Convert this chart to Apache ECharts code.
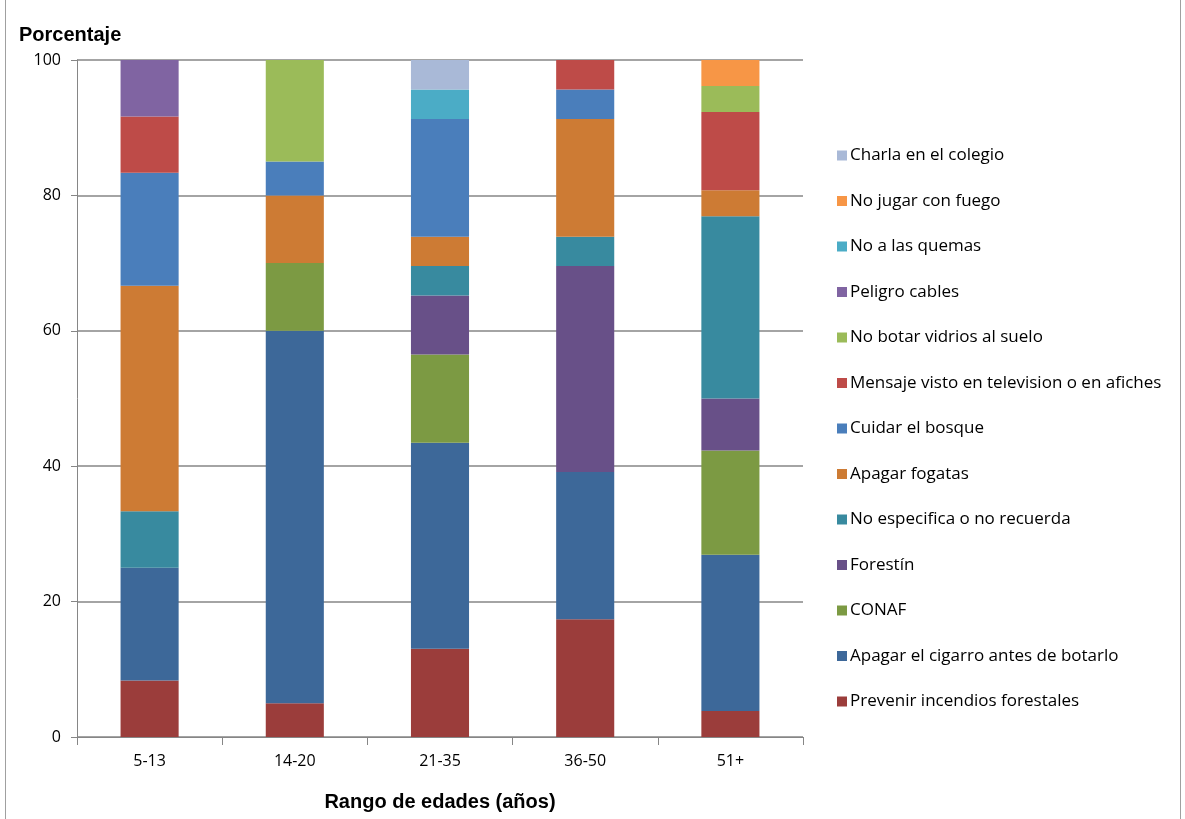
<!DOCTYPE html>
<html>
<head>
<meta charset="utf-8">
<script src="https://cdn.jsdelivr.net/npm/echarts@6/dist/echarts.min.js"></script>
<style>
html,body{margin:0;padding:0;background:#fff;}
#chart{height:819px;box-sizing:border-box;border-left:1px solid #a0a0a0;border-right:1px solid #a0a0a0;margin-left:5px;width:1176px;}
</style>
</head>
<body>
<div id="chart"></div>
<script>
const categories = ['5-13', '14-20', '21-35', '36-50', '51+'];
const seriesNames = [
  'Prevenir incendios forestales',
  'Apagar el cigarro antes de botarlo',
  'CONAF',
  'Forestín',
  'No especifica o no recuerda',
  'Apagar fogatas',
  'Cuidar el bosque',
  'Mensaje visto en television o en afiches',
  'No botar vidrios al suelo',
  'Peligro cables',
  'No a las quemas',
  'No jugar con fuego',
  'Charla en el colegio'
];
const colors = ['#9B3D3B','#3D6899','#7C9A43','#685088','#388A9F','#CD7B34','#4A7EBB','#BE4B48','#9BBB59','#8064A2','#4BACC6','#F79646','#A9B9D7'];
// valores por serie (porcentaje) para 5-13, 14-20, 21-35, 36-50, 51+
const prevenir = [8.33, 5, 13.04, 17.39, 3.85];
const cigarro = [16.67, 55, 30.43, 21.74, 23.08];
const conaf = [0, 10, 13.04, 0, 15.38];
const forestin = [0, 0, 8.70, 30.43, 7.69];
const noEspecifica = [8.33, 0, 4.35, 4.35, 26.92];
const fogatas = [33.33, 10, 4.35, 17.39, 3.85];
const bosque = [16.67, 5, 17.39, 4.35, 0];
const mensaje = [8.33, 0, 0, 4.35, 11.54];
const vidrios = [0, 15, 0, 0, 3.85];
const cables = [8.33, 0, 0, 0, 0];
const quemas = [0, 0, 4.35, 0, 0];
const jugar = [0, 0, 0, 0, 3.85];
const charla = [0, 0, 4.35, 0, 0];
const yTicks = [0, 20, 40, 60, 80, 100];

const values = [prevenir, cigarro, conaf, forestin, noEspecifica, fogatas, bosque, mensaje, vidrios, cables, quemas, jugar, charla];

const bold = '"Liberation Sans", Arial, sans-serif';
const body = '"Open Sans", "Liberation Sans", sans-serif';

const myChart = echarts.init(document.getElementById('chart'));
const option = {
  animation: false,
  grid: { left: 71, right: 377, top: 60, bottom: 82 },
  title: {
    text: 'Porcentaje', left: 8, top: 20,
    textStyle: { fontFamily: bold, fontWeight: 'bold', fontSize: 20, color: '#000' }
  },
  legend: {
    orient: 'vertical', left: 826, top: 142, itemGap: 28.5,
    itemWidth: 10, itemHeight: 10, icon: 'rect',
    data: seriesNames.slice().reverse(),
    textStyle: { fontFamily: body, fontSize: 17, color: '#000', padding: [0,0,0,-2] }
  },
  xAxis: {
    type: 'category', data: categories,
    name: 'Rango de edades (años)', nameLocation: 'middle', nameGap: 55,
    nameTextStyle: { fontFamily: bold, fontWeight: 'bold', fontSize: 20, color: '#000' },
    axisLine: { lineStyle: { color: '#868686' } },
    axisTick: { show: true, length: 8, lineStyle: { color: '#868686' } },
    axisLabel: { fontFamily: body, fontSize: 16, color: '#000', margin: 16 }
  },
  yAxis: {
    type: 'value', min: yTicks[0], max: yTicks[yTicks.length - 1], interval: 20,
    axisLine: { show: true, lineStyle: { color: '#868686' } },
    axisTick: { show: true, length: 6, inside: false, lineStyle: { color: '#868686' } },
    axisLabel: { fontFamily: body, fontSize: 16, color: '#000', margin: 16 },
    splitLine: { lineStyle: { color: '#868686', width: 1.5 } }
  },
  series: seriesNames.map((name, i) => ({
    name, type: 'bar', stack: 'total', barWidth: '40%',
    itemStyle: { color: colors[i] },
    data: values[i]
  }))
};
myChart.setOption(option);
</script>
</body>
</html>
